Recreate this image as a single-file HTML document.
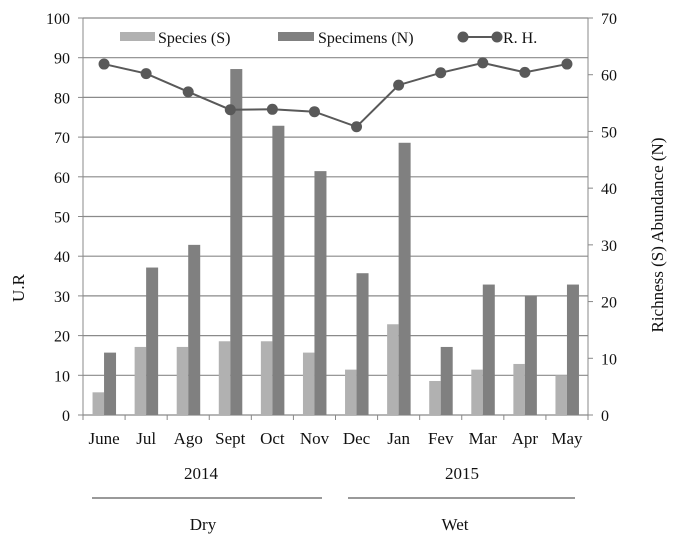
<!DOCTYPE html>
<html><head><meta charset="utf-8"><style>
body{margin:0;background:#fff;}
svg text{font-family:"Liberation Serif",serif;fill:#111;}
</style></head><body>
<svg id="c" width="676" height="546" viewBox="0 0 676 546" xmlns="http://www.w3.org/2000/svg"></svg>
<script>
const months=["June","Jul","Ago","Sept","Oct","Nov","Dec","Jan","Fev","Mar","Apr","May"];
const species=[4,12,12,13,13,11,8,16,6,8,9,7];
const specimens=[11,26,30,61,51,43,25,48,12,23,21,23];
const rh=[88.4,86,81.4,76.9,77,76.4,72.6,83.1,86.2,88.7,86.3,88.4];
const leftTicks=[0,10,20,30,40,50,60,70,80,90,100];
const rightTicks=[0,10,20,30,40,50,60,70];
const NS="http://www.w3.org/2000/svg";
const svg=document.getElementById('c');
const X0=83,X1=588,Y0=415,Y1=18;
const bw=(X1-X0)/months.length;
const yL=v=>Y0-(v/100)*(Y0-Y1);
const yR=v=>Y0-(v/70)*(Y0-Y1);
const xc=i=>X0+bw*(i+0.5);
function mk(t,a,txt){const e=document.createElementNS(NS,t);for(const k in a)e.setAttribute(k,a[k]);if(txt!==undefined)e.textContent=txt;svg.appendChild(e);return e;}
leftTicks.forEach(v=>{
 const g=mk('line',{x1:X0,x2:X1,y1:yL(v),y2:yL(v),stroke:'#8a8a8a','stroke-width':1.2});
 
 
 mk('line',{x1:X0-5,x2:X0,y1:yL(v),y2:yL(v),stroke:'#888'});
 const t=mk('text',{x:X0-13,y:yL(v)+6,'text-anchor':'end','font-size':16},v);
 
 
});
rightTicks.forEach(v=>{
 mk('line',{x1:X1,x2:X1+5,y1:yR(v),y2:yR(v),stroke:'#888'});
 const t=mk('text',{x:X1+13,y:yR(v)+6,'font-size':16},v);
 
 
});
mk('line',{x1:X0,x2:X0,y1:Y1,y2:Y0,stroke:'#888'});
mk('line',{x1:X1,x2:X1,y1:Y1,y2:Y0,stroke:'#888'});
for(let i=0;i<=months.length;i++)mk('line',{x1:X0+bw*i,x2:X0+bw*i,y1:Y0,y2:Y0+5,stroke:'#888'});
months.forEach((m,i)=>{
 const b1=mk('rect',{x:xc(i)-11.5,y:yR(species[i]),width:11.5,height:Y0-yR(species[i]),fill:'#b1b1b1'});
 
 
 const b2=mk('rect',{x:xc(i),y:yR(specimens[i]),width:12,height:Y0-yR(specimens[i]),fill:'#808080'});
 
 
 const t=mk('text',{x:xc(i),y:444,'text-anchor':'middle','font-size':17},m);
 
 
});
const pl=mk('polyline',{points:rh.map((v,i)=>xc(i)+','+yL(v)).join(' '),fill:'none',stroke:'#595959','stroke-width':2});


rh.forEach((v,i)=>{
 const c=mk('circle',{cx:xc(i),cy:yL(v),r:5.5,fill:'#595959'});
 
 
});
// legend
const l1=mk('rect',{x:120,y:32,width:35,height:9,fill:'#b1b1b1'});
const lt1=mk('text',{x:158,y:43,'font-size':16},'Species (S)');
const l2=mk('rect',{x:278,y:32,width:36,height:9,fill:'#808080'});
const lt2=mk('text',{x:318,y:43,'font-size':16},'Specimens (N)');
mk('line',{x1:463,x2:497,y1:37,y2:37,stroke:'#595959','stroke-width':2});
mk('circle',{cx:463,cy:37,r:5.5,fill:'#595959'});mk('circle',{cx:497,cy:37,r:5.5,fill:'#595959'});
const lt3=mk('text',{x:503,y:43,'font-size':16},'R. H.');
// axis titles
const at=mk('text',{x:0,y:0,'font-size':17,'text-anchor':'middle',transform:'translate(24,288) rotate(-90)'},'U.R');
const rt=mk('text',{x:0,y:0,'font-size':17,'text-anchor':'middle','xml:space':'preserve',transform:'translate(663,235) rotate(-90)'},'Richness (S)   Abundance (N)');
// year & season
const y1=mk('text',{x:201,y:479,'font-size':17,'text-anchor':'middle'},'2014');
const y2=mk('text',{x:462,y:479,'font-size':17,'text-anchor':'middle'},'2015');
mk('line',{x1:92,x2:322,y1:498,y2:498,stroke:'#333'});
mk('line',{x1:348,x2:575,y1:498,y2:498,stroke:'#333'});
const s1=mk('text',{x:203,y:530,'font-size':17,'text-anchor':'middle'},'Dry');
const s2=mk('text',{x:455,y:530,'font-size':17,'text-anchor':'middle'},'Wet');
</script>
</body></html>
